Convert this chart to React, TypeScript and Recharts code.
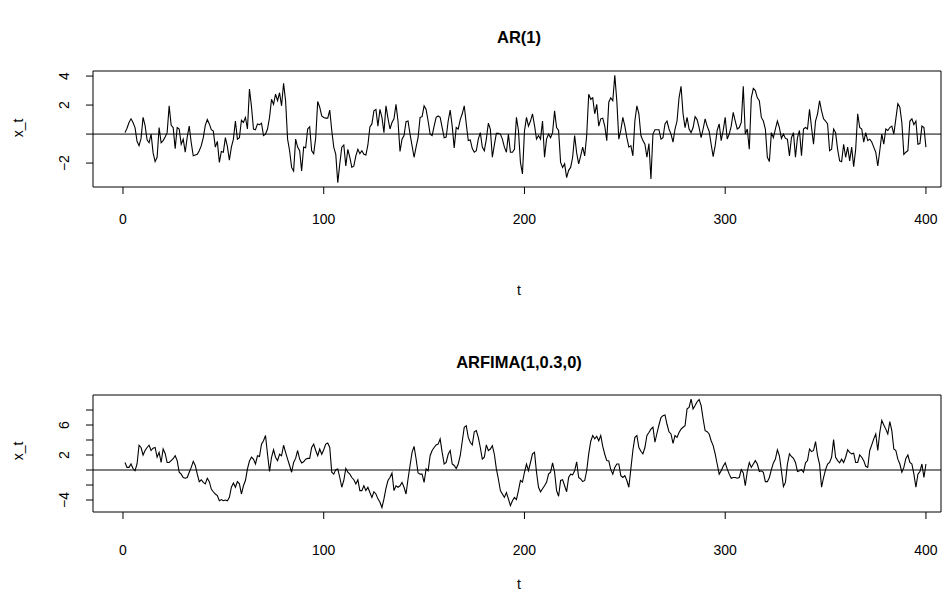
import React from 'react';
import { LineChart, Line, XAxis, YAxis, ReferenceLine, ReferenceArea } from 'recharts';

// Simulated AR(1) series, t = 1..400
const arValues = [
  0.1, 0.4, 0.8, 1.05, 0.8, 0.45, -0.5, -0.8, -0.3, 1.15,
  0.6, -0.4, -0.6, 0.0, -1.3, -1.9, -1.6, 0.45, -0.6, -0.45,
  -0.2, 0.1, 1.95, 0.6, 0.45, -1.0, 0.45, 0.35, -0.7, -0.35,
  -1.25, -0.2, 0.55, -0.6, -1.5, -1.45, -1.4, -1.15, -0.8, -0.25,
  0.6, 1.0, 0.7, 0.3, 0.2, -0.9, -0.5, -1.95, -1.2, -1.25,
  -0.25, -0.85, -1.8, -0.9, -0.35, 0.9, -0.35, -0.25, 0.95, 0.8,
  1.15, 0.35, 3.1, 1.9, 0.35, 0.3, 0.7, 0.65, 0.75, -0.1,
  0.0, 0.35, 1.15, 2.4, 2.05, 2.75, 2.3, 2.85, 1.95, 3.5,
  2.3, -0.35, -1.15, -2.3, -2.55, -0.35, -0.9, -1.15, -2.55, -0.9,
  -0.95, 0.35, 0.5, -1.15, -1.35, -0.25, 2.25, 1.85, 1.25, 1.15,
  1.1, 1.1, 1.65, 0.25, -0.9, -1.4, -3.35, -2.05, -0.9, -0.75,
  -2.2, -1.05, -1.6, -2.3, -2.2, -1.5, -1.05, -1.35, -1.15, -1.4,
  -1.45, -0.75, 0.5, 0.7, 1.6, 1.7, 0.55, 1.7, 1.15, 0.1,
  1.95, 1.1, 0.35, 0.8, 1.05, 2.05, 0.9, -1.2, -0.35, -0.1,
  0.85, 0.9, 0.0, -0.8, -1.6, -0.9, -0.25, 1.15, 1.2, 1.95,
  1.7, 0.9, 0.0, -0.1, 0.55, 1.15, 1.25, 1.15, 0.45, -0.25,
  -0.2, 0.9, 1.65, 0.55, -0.95, 0.45, 0.35, 1.0, 1.4, 1.95,
  0.7, -0.45, -0.4, -1.0, -1.25, -1.15, -0.35, 0.1, -0.9, -1.15,
  -0.35, 0.75, 0.35, -1.6, -0.75, 0.05, 0.05, 0.0, -0.35, -0.9,
  -1.25, 0.0, -1.25, -1.25, -1.05, 1.15, 0.25, -1.95, -2.75, 0.2,
  1.15, 0.55, 0.9, 1.4, 0.6, -0.35, -0.1, -0.35, 0.9, -1.6,
  -0.35, 0.0, -0.25, 0.1, 1.6, 0.45, 0.25, -1.95, -2.3, -2.05,
  -3.0, -2.5, -2.3, -1.6, -0.1, -1.3, -2.05, -1.5, -0.9, -1.5,
  -0.1, 2.75, 2.4, 2.5, 1.4, 2.05, 0.55, 1.05, 1.1, 0.55,
  -0.45, 2.2, 2.5, 2.3, 4.05, 2.3, -0.35, 0.25, 1.15, 0.55,
  -0.25, -0.9, -0.8, -1.5, 0.9, 1.95, 1.4, -0.1, -0.45, -0.7,
  -1.6, -0.65, -3.1, 0.0, 0.3, 0.3, 0.3, -0.35, -0.25, 0.7,
  0.9, 0.35, 0.0, -0.55, 0.35, 0.9, 2.5, 3.3, 1.4, 0.45,
  1.15, 0.35, 0.1, 0.45, 1.2, 1.0, 0.45, -0.25, 0.35, 1.05,
  0.55, 0.2, -0.7, -1.55, -0.8, 0.25, 0.7, -0.45, 0.25, 1.15,
  -0.35, 0.0, 0.55, 1.5, 0.9, 0.35, 0.45, 0.8, 3.3, 0.0,
  0.35, -1.05, 2.5, 3.15, 3.0, 2.5, 2.3, 1.15, 0.9, 0.35,
  -1.6, -1.9, 0.1, -0.25, 0.35, 0.9, 0.45, -0.3, 0.0, -0.3,
  -0.35, -1.5, -0.25, 0.1, -1.6, -0.25, 0.25, -1.5, 0.35, 0.45,
  0.35, 1.7, 0.45, -0.7, 0.9, 1.4, 2.3, 1.6, 1.05, 0.9,
  0.7, -1.15, -1.05, 0.35, 0.1, -1.05, -1.85, -1.9, -0.7, -1.6,
  -0.9, -1.85, -0.9, -2.25, -1.05, 1.4, 0.45, 0.35, -0.55, 0.1,
  -0.45, -0.35, -0.55, -0.9, -1.25, -2.2, -1.15, 0.0, -0.7, 0.35,
  0.25, 0.45, 0.55, 0.0, 1.05, 2.1, 1.85, 0.8, -1.4, -1.25,
  -1.15, 0.9, 1.05, 0.65, 0.9, -0.7, -0.65, 0.55, 0.45, -0.9,
];

// Simulated ARFIMA(1,0.3,0) series, t = 1..400
const arfimaValues = [
  1.0, 0.35, 0.35, 0.8, 0.2, -0.1, 0.8, 3.3, 3.0, 2.0,
  2.6, 3.0, 3.3, 2.6, 2.9, 3.0, 1.7, 2.35, 1.0, 2.8,
  2.2, 1.0, 1.0, 1.25, 1.5, 1.9, 1.25, -0.3, -0.55, -1.0,
  -1.1, -1.0, -0.3, 0.35, 1.15, 0.6, -0.55, -1.55, -1.3, -1.65,
  -1.85, -1.1, -1.55, -2.55, -2.9, -3.2, -3.4, -4.1, -3.95, -4.1,
  -4.0, -4.1, -3.65, -2.3, -1.75, -2.3, -1.55, -1.85, -3.2, -2.1,
  -1.4, 0.15, 1.2, 1.7, 1.45, 0.8, 1.9, 1.8, 3.45, 3.9,
  4.6, 2.1, -0.2, 1.7, 2.7, 1.7, 1.25, 2.1, 1.9, 3.3,
  2.35, 1.45, 0.6, -0.3, 1.0, 1.55, 2.6, 1.45, 0.95, 1.1,
  1.45, 1.55, 1.55, 3.0, 3.45, 2.6, 1.9, 2.8, 2.1, 2.7,
  3.45, 3.6, 3.0, -0.3, -0.55, 0.05, 0.15, -1.0, -2.3, -1.4,
  0.2, -0.3, -0.55, -1.0, -1.3, -1.85, -1.3, -2.75, -2.75, -2.1,
  -2.75, -2.3, -3.0, -3.65, -2.9, -3.2, -3.85, -4.3, -5.0, -3.85,
  -2.45, -1.4, -1.0, -0.4, -2.75, -2.1, -2.3, -2.1, -1.65, -2.3,
  -3.2, -1.2, 0.6, 2.35, 3.15, 1.5, -0.4, -0.55, -0.55, -1.65,
  0.15, -0.1, 1.9, 2.6, 3.0, 3.35, 3.45, 4.15, 2.35, 0.8,
  1.0, 2.1, 2.6, 0.8, 0.6, 0.2, 0.8, 1.9, 3.8, 5.7,
  5.9, 4.35, 3.7, 3.35, 5.1, 5.25, 4.35, 3.0, 1.45, 1.7,
  3.35, 2.6, 2.8, 3.25, 2.1, 0.15, -1.2, -2.75, -3.2, -3.65,
  -3.0, -3.85, -4.75, -4.1, -3.65, -3.95, -2.75, -1.4, -1.6, -0.3,
  0.8, -0.1, 1.0, 2.15, 2.35, -0.3, -2.3, -2.9, -2.5, -2.1,
  -1.65, -0.55, -0.3, 0.95, -0.3, -2.75, -3.5, -1.4, -1.3, -2.1,
  -2.9, -1.0, -0.55, -0.65, -0.1, 1.1, -1.0, -1.2, -1.55, -1.4,
  -0.1, 2.15, 3.8, 4.6, 4.15, 4.5, 3.9, 4.6, 3.15, 2.1,
  1.25, 1.2, 0.05, -0.55, 0.35, 0.8, 0.8, -0.75, -1.0, -0.75,
  -1.4, -2.3, 0.15, 2.6, 4.35, 4.6, 3.0, 2.5, 2.15, 3.0,
  4.6, 5.0, 5.45, 5.7, 3.7, 4.9, 6.0, 7.0, 7.25, 7.35,
  6.1, 5.1, 4.8, 3.55, 4.6, 4.35, 5.0, 5.45, 5.7, 5.9,
  8.15, 8.35, 9.45, 8.15, 8.6, 9.1, 9.4, 8.6, 6.8, 5.25,
  5.1, 4.8, 3.9, 3.25, 2.15, 0.8, -0.55, -0.1, 0.5, 0.95,
  0.15, -0.55, -1.1, -1.0, -1.0, -1.1, -1.0, 0.05, -0.4, -2.1,
  -0.2, 1.0, 0.35, 0.8, 1.25, 0.8, -0.2, -0.1, -0.3, -1.55,
  -1.55, -1.0, 0.05, 0.95, 1.45, 2.7, 1.9, -0.1, -2.2, -1.65,
  0.8, 2.15, 1.8, 1.55, 1.0, -0.2, -0.1, 0.05, -0.3, 0.95,
  1.25, 2.8, 2.45, 2.6, 3.8, 1.9, 0.8, -2.3, -1.0, 0.05,
  0.8, 1.0, 1.7, 4.05, 1.7, 1.25, 0.95, 1.45, 1.0, 1.7,
  2.7, 2.35, 2.15, 2.25, 1.0, 1.0, 2.0, 1.7, 1.25, 0.5,
  0.35, 2.6, 3.35, 4.15, 4.8, 2.6, 5.0, 6.6, 6.0, 5.45,
  4.8, 6.45, 5.25, 2.8, 2.6, 1.45, 0.8, -0.3, 0.35, 1.55,
  2.0, 1.0, 0.8, -0.55, -2.3, -0.55, -0.2, 0.8, -1.0, 0.8,
];

const xTicks = [0, 100, 200, 300, 400];
const arYTicks = [-2, 0, 2, 4];
const arYLabels = [-2, 2, 4];
const arfimaYTicks = [-4, -2, 0, 2, 4, 6, 8];
const arfimaYLabels = [-4, 2, 6];

const FONT = '"Liberation Sans", Arial, Helvetica, sans-serif';
const X_DOMAIN: [number, number] = [-14.94, 407.5];

type Row = { t: number; x: number };
const toRows = (values: number[]): Row[] => values.map((v, i) => ({ t: i + 1, x: v }));

const fmt = (v: number) => (v < 0 ? '\u2212' + Math.abs(v) : String(v));

function makeYTick(labels: number[]) {
  return (props: any) => {
    const { x, y, payload } = props;
    if (!labels.includes(payload.value)) return <g />;
    return (
      <text
        x={x}
        y={y}
        transform={`rotate(-90 ${x} ${y})`}
        textAnchor="middle"
        fontSize={14}
        fontFamily={FONT}
        fill="#000"
      >
        {fmt(payload.value)}
      </text>
    );
  };
}

type PanelProps = {
  values: number[];
  yDomain: [number, number];
  yTicks: number[];
  yLabels: number[];
  top: number;
  plotTop: number;
  plotBottom: number;
  xLabelGap: number;
};

function Panel({ values, yDomain, yTicks, yLabels, top, plotTop, plotBottom, xLabelGap }: PanelProps) {
  const height = 297;
  const rows = toRows(values);
  return (
    <div style={{ position: 'absolute', left: 0, top }}>
      <LineChart
        width={943}
        height={height}
        data={rows}
        margin={{ top: plotTop, right: 2, bottom: 0, left: 0 }}
      >
        <XAxis
          dataKey="t"
          type="number"
          domain={X_DOMAIN}
          allowDataOverflow
          ticks={xTicks}
          interval={0}
          axisLine={false}
          tickLine={{ stroke: '#000' }}
          tickSize={7}
          tickMargin={xLabelGap}
          height={height - plotBottom}
          tick={{ fontSize: 14, fontFamily: FONT, fill: '#000' }}
        />
        <YAxis
          type="number"
          domain={yDomain}
          allowDataOverflow
          ticks={yTicks}
          interval={0}
          axisLine={false}
          tickLine={{ stroke: '#000' }}
          tickSize={7}
          tickMargin={17}
          width={93}
          tick={makeYTick(yLabels)}
        />
        <ReferenceArea
          x1={X_DOMAIN[0]}
          x2={X_DOMAIN[1]}
          y1={yDomain[0]}
          y2={yDomain[1]}
          fill="none"
          fillOpacity={0}
          stroke="#000"
          strokeWidth={1}
          ifOverflow="visible"
        />
        <ReferenceLine y={0} stroke="#000" strokeWidth={1} />
        <Line
          type="linear"
          dataKey="x"
          stroke="#000"
          strokeWidth={1.1}
          dot={false}
          isAnimationActive={false}
        />
      </LineChart>
    </div>
  );
}

const textBase: React.CSSProperties = {
  position: 'absolute',
  fontFamily: FONT,
  color: '#000',
  whiteSpace: 'nowrap',
  transform: 'translate(-50%, -50%)',
  lineHeight: 1,
};

export default function App() {
  return (
    <div
      style={{
        position: 'absolute',
        left: 0,
        top: 0,
        width: 943,
        height: 594,
        background: '#fff',
        overflow: 'hidden',
      }}
    >
      <Panel
        values={arValues}
        yDomain={[-3.65, 4.35]}
        yTicks={arYTicks}
        yLabels={arYLabels}
        top={0}
        plotTop={71}
        plotBottom={187}
        xLabelGap={20}
      />
      <Panel
        values={arfimaValues}
        yDomain={[-5.6, 10.0]}
        yTicks={arfimaYTicks}
        yLabels={arfimaYLabels}
        top={297}
        plotTop={98}
        plotBottom={215}
        xLabelGap={26}
      />
      <div style={{ ...textBase, left: 519, top: 37, fontSize: 16.5, fontWeight: 'bold' }}>AR(1)</div>
      <div style={{ ...textBase, left: 519, top: 290, fontSize: 14 }}>t</div>
      <div style={{ ...textBase, left: 18, top: 128, fontSize: 14, transform: 'translate(-50%, -50%) rotate(-90deg)' }}>x_t</div>
      <div style={{ ...textBase, left: 519, top: 362, fontSize: 16.5, fontWeight: 'bold' }}>ARFIMA(1,0.3,0)</div>
      <div style={{ ...textBase, left: 519, top: 584, fontSize: 14 }}>t</div>
      <div style={{ ...textBase, left: 18, top: 451, fontSize: 14, transform: 'translate(-50%, -50%) rotate(-90deg)' }}>x_t</div>
    </div>
  );
}
